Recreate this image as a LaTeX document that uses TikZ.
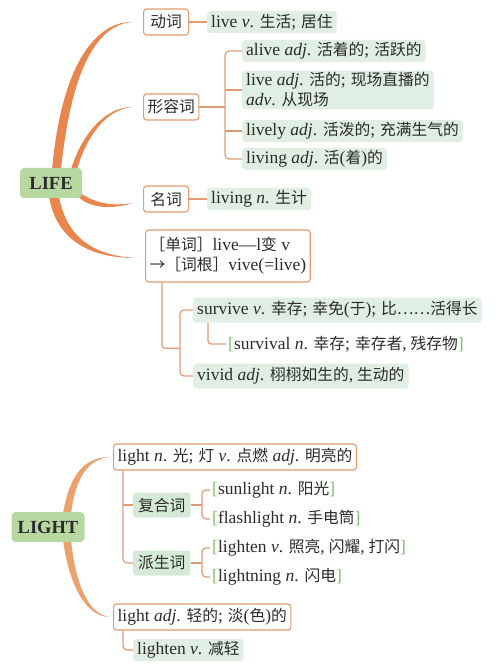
\documentclass[tikz,border=0pt]{standalone}
\usepackage{fontspec}
\setmainfont{Liberation Serif}
\newfontfamily\cjk[Scale=0.9]{Noto Sans CJK SC}
\usetikzlibrary{calc,backgrounds}
\newcommand\zh[1]{{\cjk #1}}
\newcommand\fsc{{\rmfamily;}\hspace{5pt}}
\newcommand\fcm{{\rmfamily,}\hspace{4pt}}
\newcommand\lp{{\rmfamily(}}
\newcommand\rp{{\rmfamily)}}
\newcommand\gl{\textcolor{brgr}{[}}
\newcommand\gr{\textcolor{brgr}{]}}
\definecolor{curveor}{HTML}{E8864E}
\definecolor{curveor2}{HTML}{ECA06E}
\definecolor{boxor}{HTML}{E39A6C}
\definecolor{lineor}{HTML}{DE9C74}
\definecolor{rootgr}{HTML}{B7D8A1}
\definecolor{entgr}{HTML}{E0EEE3}
\definecolor{catgr}{HTML}{D5EAD6}
\definecolor{brgr}{HTML}{7DBB6E}
\definecolor{txt}{HTML}{2B2B2B}
\begin{document}
\begin{tikzpicture}[x=1pt,y=-1pt, font=\fontsize{17.5}{20}\selectfont, text=txt,
 rootbox/.style={fill=rootgr, rounded corners=4pt, font=\fontsize{18.5}{20}\selectfont\bfseries, minimum height=30pt, inner xsep=6pt},
 catbox/.style={draw=boxor, line width=1.1pt, fill=white, rounded corners=3pt, minimum height=26pt, inner xsep=4pt, anchor=west},
 entbox/.style={fill=entgr, rounded corners=3pt, minimum height=22pt, inner xsep=4pt, inner ysep=2pt, anchor=west},
 cgbox/.style={fill=catgr, rounded corners=3pt, minimum height=25pt, inner xsep=5pt, anchor=west},
 plain/.style={anchor=west, inner xsep=2pt},
 conn/.style={draw=lineor, line width=1.2pt},
 branch/.style={fill=curveor},
 branchb/.style={fill=curveor2},
]
\useasboundingbox (0,0) rectangle (500,668);

% ---------- LIFE ----------
\node[rootbox, minimum width=62pt] (life) at (51,183) {LIFE};
\node[catbox, minimum width=45pt] (dongci) at (143,22) {\zh{动词}};
\node[entbox] (livev) at (207,22) {live \textit{v}. \zh{生活\fsc 居住}};
\node[catbox] (xrc) at (143,107) {\zh{形容词}};
\node[entbox] (alive) at (242,51) {alive \textit{adj}. \zh{活着的\fsc 活跃的}};
\node[entbox, align=left] (liveadj) at (242,90) {live \textit{adj}. \zh{活的\fsc 现场直播的}\\ \textit{adv}. \zh{从现场}};
\node[entbox] (lively) at (242,131) {lively \textit{adj}. \zh{活泼的\fsc 充满生气的}};
\node[entbox] (livingadj) at (242,159) {living \textit{adj}. \zh{活\lp 着\rp 的}};
\node[catbox, minimum width=45pt] (mingci) at (143,199) {\zh{名词}};
\node[entbox] (livingn) at (207,199) {living \textit{n}. \zh{生计}};
\node[catbox, align=left, minimum height=52pt] (wordroot) at (145,256) {\zh{［单词］}live—l\zh{变} v\\ \zh{→［词根］}vive(=live)};
\node[entbox, minimum height=25pt] (survive) at (193,310) {survive \textit{v}. \zh{幸存\fsc 幸免\lp 于\rp\fsc 比……活得长}};
\node[plain] (survival) at (226,344) {\gl survival \textit{n}. \zh{幸存\fsc 幸存者\fcm 残存物}\gr};
\node[entbox, minimum height=25pt] (vivid) at (193,376) {vivid \textit{adj}. \zh{栩栩如生的\fcm 生动的}};

% ---------- LIGHT ----------
\node[rootbox, minimum width=73pt] (light) at (48,527) {LIGHT};
\node[catbox] (lightn) at (113,457) {light \textit{n}. \zh{光\fsc 灯} \textit{v}. \zh{点燃} \textit{adj}. \zh{明亮的}};
\node[cgbox] (fuhe) at (133,505) {\zh{复合词}};
\node[cgbox] (paisheng) at (133,563) {\zh{派生词}};
\node[plain] (sunlight) at (210,490) {\gl sunlight \textit{n}. \zh{阳光}\gr};
\node[plain] (flashlight) at (210,519) {\gl flashlight \textit{n}. \zh{手电筒}\gr};
\node[plain] (lighten) at (210,548) {\gl lighten \textit{v}. \zh{照亮\fcm 闪耀\fcm 打闪}\gr};
\node[plain] (lightning) at (210,577) {\gl lightning \textit{n}. \zh{闪电}\gr};
\node[catbox] (lightadj) at (113,617) {light \textit{adj}. \zh{轻的\fsc 淡\lp 色\rp 的}};
\node[entbox] (lightenv) at (133,650) {lighten \textit{v}. \zh{减轻}};

% ---------- connectors (LIFE) ----------
\draw[conn] (dongci.east) -- (livev.west);
\draw[conn] (mingci.east) -- (livingn.west);
\coordinate (xb) at ($(alive.west)+(-17,0)$);
\draw[conn] (xrc.east) -- (xrc.east -| xb);
\draw[conn, rounded corners=4pt] (alive.west) -- (alive.west -| xb) -- (livingadj.west -| xb) -- (livingadj.west);
\draw[conn] (liveadj.west) -- (liveadj.west -| xb);
\draw[conn] (lively.west) -- (lively.west -| xb);
\coordinate (wr) at ($(wordroot.south west)+(17,0)$);
\coordinate (sb) at ($(survive.west)+(-13,0)$);
\coordinate (mid) at ($(survive.west)!0.58!(vivid.west)$);
\draw[conn, rounded corners=3pt] (wr) |- (mid -| sb);
\draw[conn, rounded corners=4pt] (survive.west) -- (survive.west -| sb) -- (vivid.west -| sb) -- (vivid.west);
\draw[conn, rounded corners=3pt] ($(survive.south west)+(15,0)$) |- (survival.west);

% ---------- connectors (LIGHT) ----------
\coordinate (lx) at ($(lightn.south west)+(10,0)$);
\draw[conn, rounded corners=4pt] (lx) |- (paisheng.west);
\draw[conn] (lx |- fuhe.west) -- (fuhe.west);
\coordinate (fb) at ($(sunlight.west)+(-8,0)$);
\draw[conn] (fuhe.east) -- (fuhe.east -| fb);
\draw[conn, rounded corners=4pt] (sunlight.west) -- (sunlight.west -| fb) -- (flashlight.west -| fb) -- (flashlight.west);
\draw[conn] (paisheng.east) -- (paisheng.east -| fb);
\draw[conn, rounded corners=4pt] (lighten.west) -- (lighten.west -| fb) -- (lightning.west -| fb) -- (lightning.west);
\draw[conn, rounded corners=4pt] ($(lightadj.south west)+(10,0)$) |- (lightenv.west);

% ---------- tapered branches ----------
\begin{scope}[on background layer]
\fill[branch] ($(life.north)+(1,2)$) .. controls (62,60) and (98,21) .. ($(dongci.west)+(-10,0)$)
  .. controls (100,24) and (72,62) .. ($(life.north)+(10,2)$) -- cycle;
\fill[branch] ($(life.north)+(20,2)$) .. controls (80,138) and (104,106) .. ($(xrc.west)+(-10,0)$)
  .. controls (105,108.5) and (85,140) .. ($(life.north)+(26,2)$) -- cycle;
\fill[branch] ($(life.east)+(-6,7)$) .. controls (95,205) and (115,206) .. ($(mingci.west)+(-10,4)$)
  .. controls (115,208.5) and (93,210) .. ($(life.east)+(-4,14)$) -- cycle;
\fill[branch] ($(life.south)+(-2,-2)$) .. controls (56,240) and (90,258.5) .. ($(wordroot.west)+(-8,2)$)
  .. controls (92,256) and (66,236) .. ($(life.south)+(8,-2)$) -- cycle;
\fill[branchb] ($(light.north)+(15,2)$) .. controls (70,470) and (88,457) .. ($(lightn.west)+(-3,0)$)
  .. controls (90,459) and (76,474) .. ($(light.north)+(23,2)$) -- cycle;
\fill[branchb] ($(light.south)+(15,-2)$) .. controls (70,590) and (88,617) .. ($(lightadj.west)+(-3,0)$)
  .. controls (90,615) and (76,588) .. ($(light.south)+(23,-2)$) -- cycle;
\end{scope}
\end{tikzpicture}
\end{document}
